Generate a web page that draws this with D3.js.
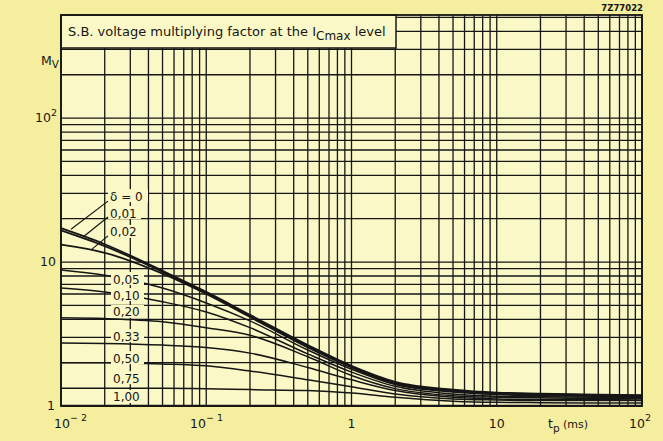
<!DOCTYPE html>
<html>
<head>
<meta charset="utf-8">
<script src="https://cdn.jsdelivr.net/npm/d3@7"></script>
<style>
  body { margin: 0; background: #f5ee9e; }
  svg { display: block; font-family: "DejaVu Sans", "Liberation Sans", sans-serif; }
</style>
</head>
<body>
<div id="chart"></div>
<script>
// pulse time points (ms) where curves were read
const tpPoints = [0.01, 0.02, 0.05, 0.1, 0.2, 0.5, 1, 2, 5, 10, 20, 50, 100];

// M_V values, one array per duty factor
const mvD000 = [17.2, 13.3, 8.7, 6.2, 4.3, 2.65, 1.9, 1.47, 1.3, 1.24, 1.22, 1.2, 1.19];
const mvD001 = [16.6, 12.9, 8.55, 6.1, 4.2, 2.6, 1.87, 1.45, 1.28, 1.23, 1.21, 1.19, 1.18];
const mvD002 = [13.2, 11.6, 8.3, 6.0, 4.15, 2.55, 1.85, 1.43, 1.27, 1.22, 1.2, 1.18, 1.17];
const mvD005 = [8.8, 8.1, 6.6, 5.2, 3.9, 2.45, 1.8, 1.41, 1.25, 1.2, 1.18, 1.17, 1.16];
const mvD010 = [6.6, 6.2, 5.3, 4.5, 3.5, 2.3, 1.72, 1.37, 1.21, 1.17, 1.16, 1.15, 1.15];
const mvD020 = [4.1, 4.05, 3.85, 3.5, 3.1, 2.2, 1.63, 1.32, 1.18, 1.15, 1.14, 1.13, 1.13];
const mvD033 = [2.74, 2.72, 2.65, 2.55, 2.33, 1.85, 1.52, 1.28, 1.15, 1.12, 1.11, 1.11, 1.1];
const mvD050 = [2.0, 2.0, 1.96, 1.9, 1.75, 1.52, 1.36, 1.21, 1.12, 1.1, 1.09, 1.09, 1.09];
const mvD075 = [1.33, 1.33, 1.33, 1.32, 1.3, 1.28, 1.23, 1.15, 1.08, 1.06, 1.055, 1.05, 1.05];
const mvD100 = [1.01, 1.01, 1.01, 1.01, 1.01, 1.01, 1.01, 1.01, 1.01, 1.01, 1.01, 1.01, 1.01];

const deltaLabels = ['\u03b4 = 0', '0,01', '0,02', '0,05', '0,10', '0,20', '0,33', '0,50', '0,75', '1,00'];
const allSeries = [mvD000, mvD001, mvD002, mvD005, mvD010, mvD020, mvD033, mvD050, mvD075, mvD100];

// label centres in M_V units (labels sit near tp ~0.03 ms)
const labelMv = [28.7, 21.9, 16.2, 7.62, 5.9, 4.5, 3.06, 2.15, 1.56, 1.155];

const xTicks = [0.01, 0.1, 1, 10, 100];
const yTicks = [1, 10, 100];

const W = 663, H = 441;
const plotBg = '#faf8c6';
const ink = '#161616';

const svg = d3.select('#chart').append('svg')
    .attr('width', W)
    .attr('height', H);

svg.append('rect').attr('width', W).attr('height', H).attr('fill', '#f5ee9e');

const x = d3.scaleLog().domain([0.01, 100]).range([61, 642]);
const y = d3.scaleLog().domain([1, 520]).range([406, 15]);

svg.append('rect')
    .attr('x', x(0.01)).attr('y', y(520))
    .attr('width', x(100) - x(0.01)).attr('height', y(1) - y(520))
    .attr('fill', plotBg);

// grid: every n x 10^k
const xGrid = [];
[0.01, 0.1, 1, 10].forEach(d => d3.range(1, 10).forEach(n => xGrid.push(d * n)));
xGrid.push(100);
const yGrid = [];
[1, 10].forEach(d => d3.range(1, 10).forEach(n => yGrid.push(d * n)));
[100, 200, 300, 400, 500].forEach(v => yGrid.push(v));

const grid = svg.append('g').attr('stroke', ink).attr('stroke-width', 1.3);
grid.selectAll('.vx').data(xGrid).enter().append('line')
    .attr('x1', d => x(d)).attr('x2', d => x(d))
    .attr('y1', y(1)).attr('y2', y(520));
grid.selectAll('.hy').data(yGrid).enter().append('line')
    .attr('x1', x(0.01)).attr('x2', x(100))
    .attr('y1', d => y(d)).attr('y2', d => y(d));

// curves
const line = d3.line()
    .x((d, i) => x(tpPoints[i]))
    .y(d => y(d))
    .curve(d3.curveMonotoneX);

svg.append('g').selectAll('path').data(allSeries).enter().append('path')
    .attr('d', d => line(d))
    .attr('fill', 'none')
    .attr('stroke', ink)
    .attr('stroke-width', (d, i) => i < 3 ? 1.8 : 1.5);

// curve labels with a plot-coloured patch behind them
const lab = svg.append('g');
deltaLabels.forEach((t, i) => {
    const ly = y(labelMv[i]);
    const lx = i < 3 ? 110 : 113;
    lab.append('rect')
        .attr('x', lx - 2).attr('y', ly - 7)
        .attr('width', i === 0 ? 40 : 33).attr('height', 13)
        .attr('fill', plotBg);
    lab.append('text')
        .attr('x', lx).attr('y', ly + 4.5)
        .attr('font-size', 12)
        .attr('fill', ink)
        .text(t);
});

// leader lines for the top three labels
const leaders = [
    [[108, y(labelMv[0]) + 5], [71, y(16.9)]],
    [[108, y(labelMv[1]) + 4], [84, y(15.1)]],
    [[108, y(labelMv[2]) + 4], [92, y(12.3)]]
];
svg.append('g').selectAll('path').data(leaders).enter().append('path')
    .attr('d', d => d3.line()(d))
    .attr('stroke', ink).attr('stroke-width', 1.2).attr('fill', 'none');

// title box
svg.append('rect')
    .attr('x', x(0.01)).attr('y', y(520))
    .attr('width', 335).attr('height', 33)
    .attr('fill', plotBg).attr('stroke', ink).attr('stroke-width', 1.5);
const title = svg.append('text')
    .attr('x', 68).attr('y', 36)
    .attr('font-size', 13).attr('fill', ink);
title.append('tspan').text('S.B. voltage multiplying factor at the I');
title.append('tspan').attr('dy', 4).attr('font-size', 12).text('Cmax');
title.append('tspan').attr('dy', -4).text(' level');

// frame
svg.append('rect')
    .attr('x', x(0.01)).attr('y', y(520))
    .attr('width', x(100) - x(0.01)).attr('height', y(1) - y(520))
    .attr('fill', 'none').attr('stroke', ink).attr('stroke-width', 1.8);

// y tick labels
const yLab = svg.append('g').attr('fill', ink).attr('font-size', 12.5);
yTicks.forEach(v => {
    const t = yLab.append('text').attr('text-anchor', 'end').attr('y', y(v) + 4);
    if (v === 1) { t.attr('x', 55).text('1'); }
    else if (v === 10) { t.attr('x', 56).text('10'); }
    else {
        t.attr('x', 57);
        t.append('tspan').text('10');
        t.append('tspan').attr('dy', -6).attr('font-size', 9.5).text('2');
    }
});
const mv = svg.append('text').attr('x', 41).attr('y', 65).attr('fill', ink).attr('font-size', 12.5);
mv.append('tspan').text('M');
mv.append('tspan').attr('dy', 3).attr('font-size', 10.5).text('V');

// x tick labels
const xLab = svg.append('g').attr('fill', ink).attr('font-size', 12.5);
const xTickText = { 0.01: ['10', '\u2212 2'], 0.1: ['10', '\u2212 1'], 1: ['1', ''], 10: ['10', ''], 100: ['10', '2'] };
xTicks.forEach(v => {
    const parts = xTickText[v];
    const t = xLab.append('text').attr('y', 428);
    let px;
    if (v === 0.01) px = 54;
    else if (v === 0.1) px = 190;
    else if (v === 100) px = 629;
    else px = x(v) - parts[0].length * 4;
    t.attr('x', px);
    t.append('tspan').text(parts[0]);
    if (parts[1]) t.append('tspan').attr('dy', -7).attr('font-size', 9.5).text(parts[1]);
});
const tp = svg.append('text').attr('x', 548).attr('y', 428).attr('fill', ink).attr('font-size', 12.5);
tp.append('tspan').text('t');
tp.append('tspan').attr('dy', 4).attr('font-size', 10.5).text('p');
tp.append('tspan').attr('dy', -4).attr('font-size', 11).text(' (ms)');

// drawing code
svg.append('text').attr('x', 643).attr('y', 11).attr('text-anchor', 'end')
    .attr('font-size', 8.5).attr('font-weight', 'bold').attr('fill', ink).text('7Z77022');
</script>
</body>
</html>
